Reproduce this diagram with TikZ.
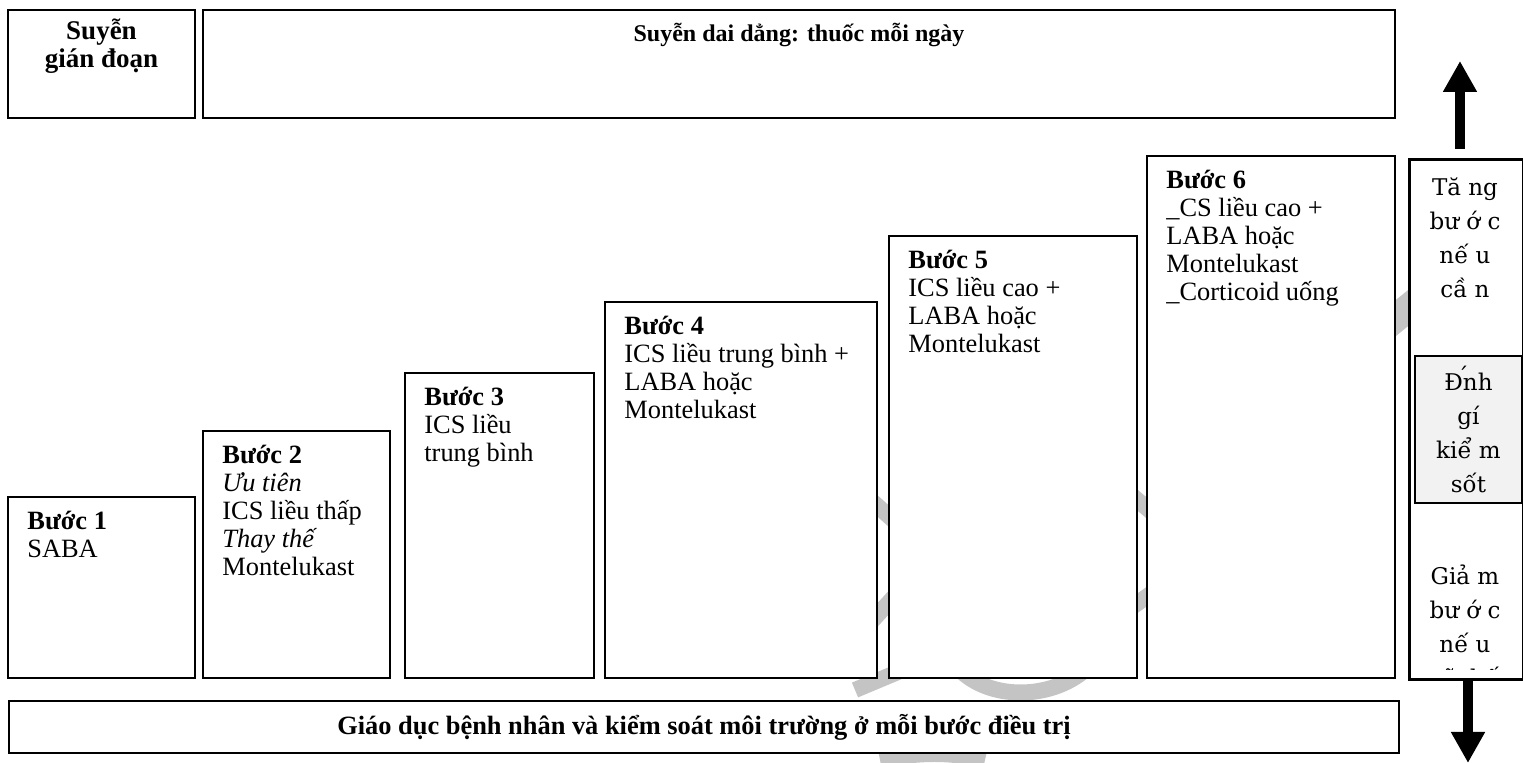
\documentclass[tikz,border=0pt]{standalone}
\usepackage{fontspec}
\setmainfont{Liberation Serif}
\newfontfamily\colfont{DejaVu Serif}
\usetikzlibrary{positioning,arrows.meta}
\definecolor{assessgray}{HTML}{F2F2F2}
\definecolor{markgray}{HTML}{C4C4C4}

\begin{document}
\begin{tikzpicture}[
    x=0.5pt, y=-0.5pt,
    every node/.style={font=\fontsize{13.2}{14}\selectfont},
    box/.style={rectangle, draw, line width=1pt, fill=white, anchor=north west, inner sep=0pt},
    steptext/.style={anchor=north west, align=left, inner sep=0pt, xshift=10pt, yshift=-7.5pt},
    headtext/.style={anchor=north, align=center, inner sep=0pt, yshift=-5pt, font=\bfseries\fontsize{13.5}{14}\selectfont},
    coltext/.style={align=center, inner sep=0pt, font=\colfont\fontsize{11.5}{17}\selectfont},
    bigarrow/.style={-{Triangle[width=16pt,length=15.5pt]}, line width=5pt},
    wmark/.style={markgray, line width=8pt}
]
    \useasboundingbox (0,0) rectangle (1523,763);

    % faint watermark, mostly hidden by the boxes
    \draw[wmark] (862,492) -- (902,528);
    \draw[wmark] (862,632) -- (902,588);
    \draw[wmark] (1128,492) -- (1156,516);
    \draw[wmark] (1128,610) -- (1156,590);
    \draw[wmark] (960,670) .. controls (990,700) and (1050,700) .. (1085,670);
    \draw[wmark] (855,690) -- (898,672);
    \draw[wmark] (880,760) .. controls (920,752) and (950,752) .. (985,760);
    \draw[markgray, line width=14pt] (1320,380) -- (1440,282);

    % top row
    \node[box, minimum width=93.5pt, minimum height=54pt] (intermit) at (7,9) {};
    \node[box, minimum width=596pt, minimum height=54pt] (persist) at (202,9) {};
    \node[headtext] (intermittext) at (intermit.north) {Suyễn\\gián đoạn};
    \node[headtext, yshift=-2pt, font=\bfseries\fontsize{12}{14}\selectfont] (persisttext) at (persist.north) {Suyễn dai dẳng: thuốc mỗi ngày};

    % steps
    \node[box, minimum width=93.5pt, minimum height=90.5pt] (step1) at (7,496) {};
    \node[box, minimum width=93.5pt, minimum height=123.5pt] (step2) at (202,430) {};
    \node[box, minimum width=94.5pt, minimum height=152.5pt] (step3) at (404,372) {};
    \node[box, minimum width=136pt, minimum height=188pt] (step4) at (604,301) {};
    \node[box, minimum width=124pt, minimum height=221pt] (step5) at (888,235) {};
    \node[box, minimum width=124pt, minimum height=261pt] (step6) at (1146,155) {};

    \node[steptext] (text1) at (step1.north west) {\textbf{Bước 1}\\SABA};
    \node[steptext] (text2) at (step2.north west) {\textbf{Bước 2}\\\textit{Ưu tiên}\\ICS liều thấp\\\textit{Thay thế}\\Montelukast};
    \node[steptext] (text3) at (step3.north west) {\textbf{Bước 3}\\ICS liều\\trung bình};
    \node[steptext] (text4) at (step4.north west) {\textbf{Bước 4}\\ICS liều trung bình +\\LABA hoặc\\Montelukast};
    \node[steptext] (text5) at (step5.north west) {\textbf{Bước 5}\\ICS liều cao +\\LABA hoặc\\Montelukast};
    \node[steptext] (text6) at (step6.north west) {\textbf{Bước 6}\\\_CS liều cao +\\LABA hoặc\\Montelukast\\\_Corticoid uống};

    % bottom bar
    \node[box, minimum width=695pt, minimum height=26pt] (educate) at (8,700) {};
    \node[font=\bfseries\fontsize{13.2}{14}\selectfont, inner sep=0pt] (educatetext) at (educate.center) {Giáo dục bệnh nhân và kiểm soát môi trường ở mỗi bước điều trị};

    % right column
    \node[box, minimum width=56.5pt, minimum height=259.5pt] (column) at (1409,159) {};
    \node[box, fill=assessgray, minimum width=53.5pt, minimum height=73.5pt] (assess) at (1414,355) {};
    \node[coltext, anchor=north] (stepup) at (1465,177) {Tă ng\\bư ớ c\\nế u\\cầ n};
    \node[coltext] (assesstext) at (assess.center) {Đ\makebox[0pt]{\raisebox{0.25em}{´}}nh\\gí\\kiể m\\sốt};
    \begin{scope}
        \clip (column.north west) rectangle ([yshift=5pt]column.south east);
        \node[coltext, anchor=north] (stepdown) at (1465,565) {Giả m\\bư ớ c\\nế u\\gĩ thế};
    \end{scope}
    \draw[line width=1pt] (column.north west) rectangle (column.south east);

    % arrows
    \coordinate (upfoot) at (1460,149);
    \coordinate (uptip) at (1460,61);
    \coordinate (downfoot) at (1468,678);
    \coordinate (downtip) at (1468,763);
    \draw[bigarrow] (upfoot) -- (uptip);
    \draw[bigarrow] (downfoot) -- (downtip);
\end{tikzpicture}
\end{document}
